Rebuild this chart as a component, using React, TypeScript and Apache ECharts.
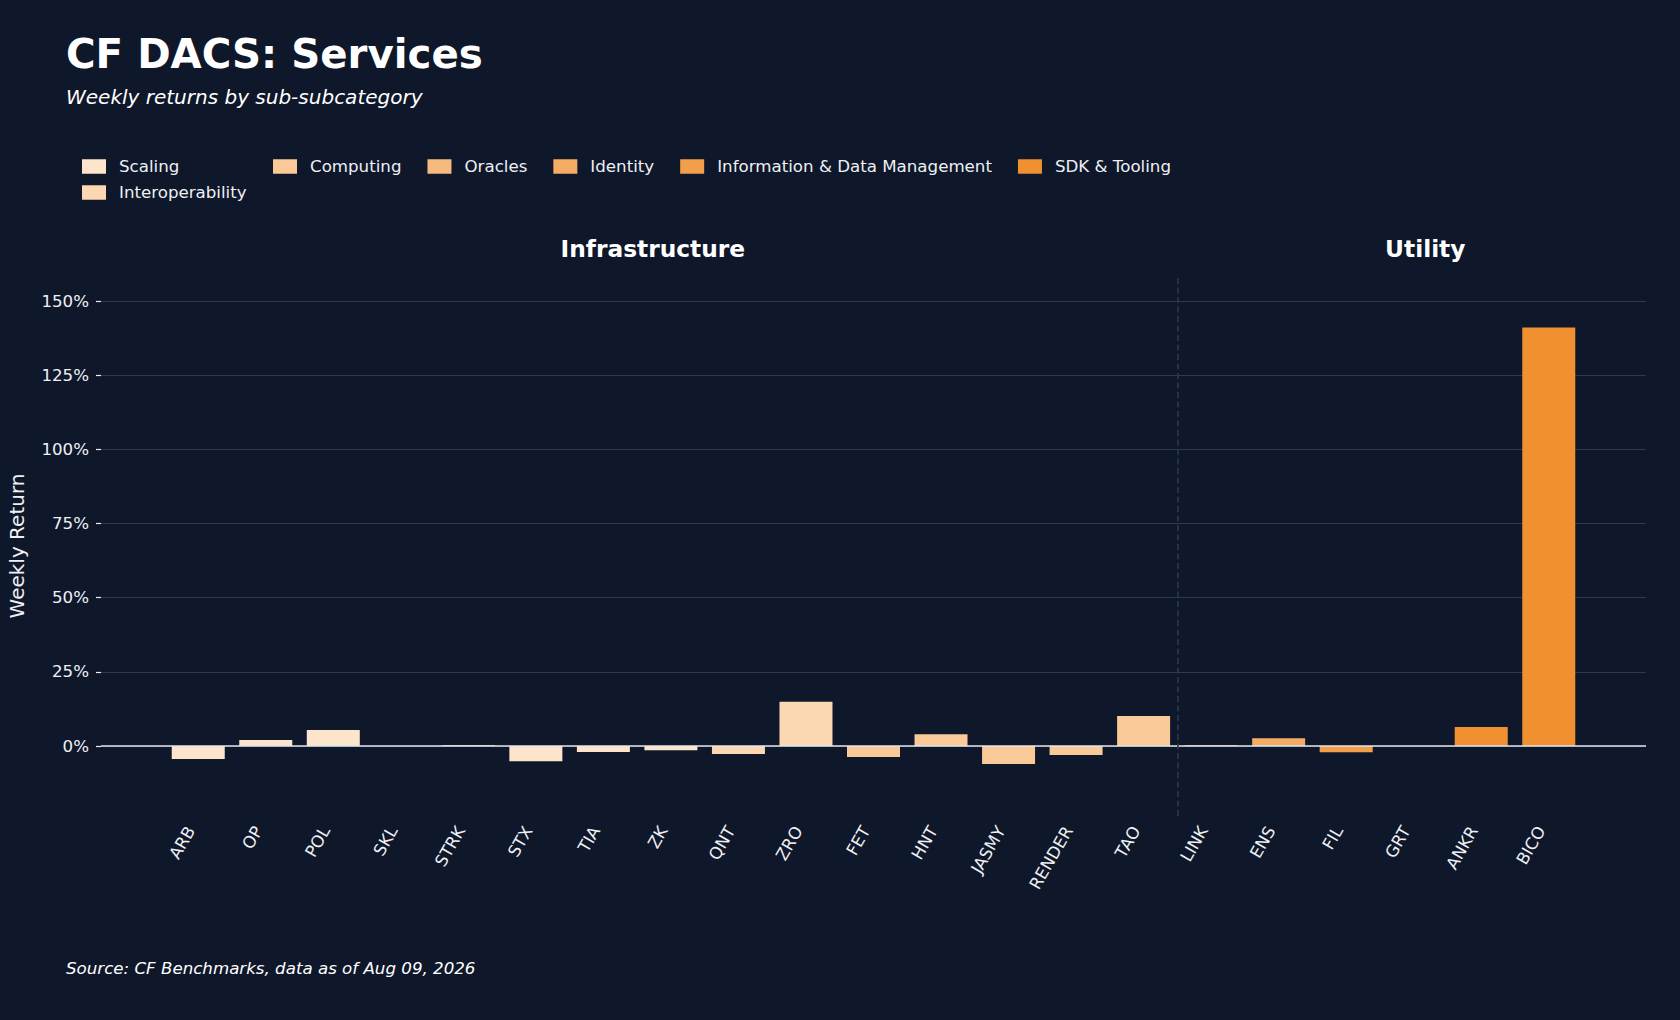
import React, { useEffect, useRef } from "react";
import * as echarts from "echarts";

// ---------- data ----------
const CATEGORIES = [
  "Scaling",
  "Interoperability",
  "Computing",
  "Oracles",
  "Identity",
  "Information & Data Management",
  "SDK & Tooling",
];
const CATEGORY_COLORS = ["#fde5cc", "#fbd7b2", "#f9c998", "#f6ba7e", "#f4ac64", "#f29e4a", "#f09030"];

const TICKERS = [
  "ARB", "OP", "POL", "SKL", "STRK", "STX", "TIA", "ZK", "QNT", "ZRO",
  "FET", "HNT", "JASMY", "RENDER", "TAO", "LINK", "ENS", "FIL", "GRT", "ANKR", "BICO",
];
const TICKER_CATEGORY = [
  "Scaling", "Scaling", "Scaling", "Scaling", "Scaling", "Scaling", "Scaling", "Scaling",
  "Interoperability", "Interoperability",
  "Computing", "Computing", "Computing", "Computing", "Computing",
  "Oracles", "Identity", "Information & Data Management", "Information & Data Management",
  "SDK & Tooling", "SDK & Tooling",
];
const WEEKLY_RETURNS = [
  -4.4, 2.0, 5.4, 0.0, 0.3, -5.1, -2.0, -1.4, -2.7, 14.9,
  -3.7, 4.0, -6.1, -3.0, 10.1, 0.3, 2.6, -2.1, 0.0, 6.4, 141.1,
];
const GROUPS = ["Infrastructure", "Utility"];
const GROUP_SIZES = [15, 6];
const Y_TICKS = [0, 25, 50, 75, 100, 125, 150];
const Y_MIN = -23.6;
const Y_MAX = 158.5;

const TITLE = "CF DACS: Services";
const SUBTITLE = "Weekly returns by sub-subcategory";
const SOURCE = "Source: CF Benchmarks, data as of Aug 09, 2026";

// ---------- layout ----------
const W = 1680;
const H = 1020;
const GRID = { left: 101, right: 34, top: 276, bottom: 204 };
const FONT = "DejaVu Sans";
const TXT = "#eef0f3";
const BG = "#0f172a";

export default function App() {
  const ref = useRef<HTMLDivElement>(null);

  useEffect(() => {
    if (!ref.current) return;
    const chart = echarts.init(ref.current, undefined, { renderer: "svg" });

    const n = TICKERS.length;
    const xMin = -1.44;
    const xMax = n - 1 + 1.44;
    const gridW = W - GRID.left - GRID.right;
    const pxPerUnit = gridW / (xMax - xMin);
    const barWidth = pxPerUnit * 0.785;

    const series: any[] = CATEGORIES.map((cat, ci) => {
      const data: any[] = [];
      TICKERS.forEach((t, i) => {
        if (TICKER_CATEGORY[i] === cat) data.push([i, WEEKLY_RETURNS[i]]);
      });
      return {
        type: "bar",
        name: cat,
        data,
        barWidth,
        barGap: "-100%",
        itemStyle: { color: CATEGORY_COLORS[ci] },
        emphasis: { disabled: true },
      };
    });

    // divider between groups & zero line
    const dividerX = GROUP_SIZES[0] - 0.5;
    series[0].markLine = {
      silent: true,
      symbol: ["none", "none"],
      label: { show: false },
      z: 10,
      data: [
        { yAxis: 0, lineStyle: { color: "#e4e6ea", width: 1.6, type: "solid" } },
        { xAxis: dividerX, lineStyle: { color: "#2d394d", width: 1.6, type: [6, 3.5] } },
      ],
    };

    // group headers (axes-fraction positions)
    let cum = 0;
    const headers = GROUPS.map((g, gi) => {
      const frac = (cum + GROUP_SIZES[gi] / 2) / n;
      cum += GROUP_SIZES[gi];
      return {
        type: "text",
        x: GRID.left + frac * gridW,
        y: 248,
        style: {
          text: g,
          fill: "#ffffff",
          fontFamily: FONT,
          fontWeight: "bold",
          fontSize: 23.3,
          align: "center",
          verticalAlign: "middle",
        },
      };
    });

    const legendBase = {
      orient: "horizontal",
      icon: "rect",
      itemWidth: 24,
      itemHeight: 14.5,
      itemGap: 26,
      padding: 0,
      textStyle: { color: TXT, fontSize: 16.67, fontFamily: FONT, padding: [0, 0, 0, 8] },
    };

    const option: any = {
      animation: false,
      backgroundColor: BG,
      textStyle: { fontFamily: FONT },
      grid: { ...GRID, containLabel: false, outerBoundsMode: "none" },
      legend: [
        { ...legendBase, data: [CATEGORIES[0]], left: 82, top: 158 },
        { ...legendBase, data: [CATEGORIES[1]], left: 82, top: 184 },
        { ...legendBase, data: CATEGORIES.slice(2), left: 273, top: 158 },
      ],
      xAxis: {
        type: "value",
        min: xMin,
        max: xMax,
        axisLine: { show: false, onZero: false },
        axisTick: { show: false },
        splitLine: { show: false },
        axisLabel: {
          customValues: TICKERS.map((_, i) => i),
          formatter: (v: number) => TICKERS[Math.round(v)] ?? "",
          rotate: 60,
          align: "right",
          verticalAlign: "bottom",
          margin: 16,
          color: TXT,
          fontSize: 16.67,
          fontFamily: FONT,
        },
      },
      yAxis: {
        type: "value",
        min: Y_MIN,
        max: Y_MAX,
        name: "Weekly Return",
        nameLocation: "middle",
        nameRotate: 90,
        nameGap: 74,
        nameMoveOverlap: false,
        nameTextStyle: { color: TXT, fontSize: 20, fontFamily: FONT },
        axisLine: { show: false, onZero: false },
        axisTick: { show: true, customValues: Y_TICKS, length: 5, lineStyle: { color: TXT, width: 1.2 } },
        axisLabel: {
          customValues: Y_TICKS,
          formatter: (v: number) => `${v}%`,
          margin: 12,
          color: TXT,
          fontSize: 16.67,
          fontFamily: FONT,
        },
        splitLine: { show: true, lineStyle: { color: "#2e3a4d", width: 1 } },
      },
      series,
      graphic: [
        {
          type: "text",
          x: 66,
          y: 54,
          style: { text: TITLE, fill: "#ffffff", fontFamily: FONT, fontWeight: "bold", fontSize: 40.3, align: "left", verticalAlign: "middle" },
        },
        {
          type: "text",
          x: 66,
          y: 97,
          style: { text: SUBTITLE, fill: "#ffffff", fontFamily: FONT, fontStyle: "italic", fontSize: 20, align: "left", verticalAlign: "middle" },
        },
        {
          type: "text",
          x: 66,
          y: 968,
          style: { text: SOURCE, fill: "#ffffff", fontFamily: FONT, fontStyle: "italic", fontSize: 16.67, align: "left", verticalAlign: "middle" },
        },
        ...headers,
      ],
    };

    chart.setOption(option);
    return () => chart.dispose();
  }, []);

  return (
    <div
      ref={ref}
      style={{ position: "absolute", left: 0, top: 0, width: W, height: H, background: BG }}
    />
  );
}
